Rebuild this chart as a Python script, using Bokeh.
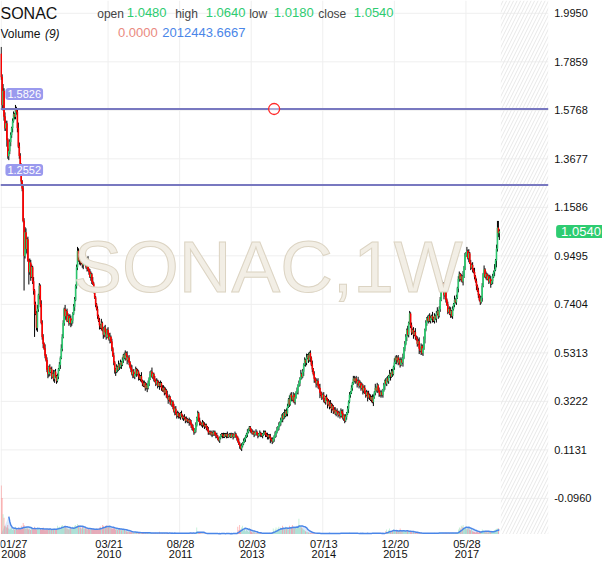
import pandas as pd
from bokeh.plotting import figure
from bokeh.models import Range1d, Label, ColumnDataSource
from bokeh.embed import file_html
from bokeh.resources import INLINE

FONT = "Liberation Sans"

# ---------------- data ----------------
symbol = "SONAC"
watermark = "SONAC,1W"
date_tick_weeks = [12, 112, 187, 262, 337, 412, 487]
date_grid_weeks = [0, 112, 187, 262, 337, 412, 487]
date_tick_labels = [("01/27", "2008"), ("03/21", "2010"), ("08/28", "2011"), ("02/03", "2013"),
                    ("07/13", "2014"), ("12/20", "2015"), ("05/28", "2017")]
price_ticks = [1.9950, 1.7859, 1.5768, 1.3677, 1.1586, 0.9495, 0.7404,
               0.5313, 0.3222, 0.1131, -0.0960]
level_lines = [1.5826, 1.2552]
marker_week = [286]
marker_price = [1.5826]
last_ohlc = {"open": "1.0480", "high": "1.0640", "low": "1.0180", "close": "1.0540"}
last_price = 1.0540
vol_last_text = "0.0000"
vol_ma_text = "2012443.6667"

first_open = 1.82
closes = [
    1.72, 1.60, 1.66, 1.55, 1.50, 1.52, 1.45, 1.38, 1.40, 1.44,
    1.47, 1.50, 1.53, 1.56, 1.55, 1.58, 1.57, 1.50, 1.42, 1.38,
    1.33, 1.27, 1.24, 1.10, 0.95, 1.05, 0.98, 1.02, 0.93, 0.88,
    0.92, 0.86, 0.90, 0.84, 0.80, 0.74, 0.70, 0.64, 0.72, 0.78,
    0.82, 0.74, 0.66, 0.60, 0.57, 0.55, 0.52, 0.50, 0.46, 0.44,
    0.47, 0.45, 0.46, 0.43, 0.44, 0.42, 0.45, 0.43, 0.41, 0.43,
    0.46, 0.48, 0.51, 0.55, 0.60, 0.66, 0.72, 0.69, 0.71, 0.67,
    0.69, 0.66, 0.68, 0.66, 0.67, 0.70, 0.73, 0.76, 0.82, 0.90,
    0.97, 0.93, 0.95, 0.92, 0.94, 0.91, 0.93, 0.95, 0.92, 0.90,
    0.93, 0.89, 0.88, 0.86, 0.87, 0.84, 0.83, 0.80, 0.77, 0.74,
    0.72, 0.69, 0.67, 0.65, 0.64, 0.66, 0.63, 0.61, 0.64, 0.62,
    0.60, 0.63, 0.61, 0.59, 0.60, 0.58, 0.55, 0.52, 0.49, 0.46,
    0.45, 0.47, 0.46, 0.48, 0.47, 0.49, 0.48, 0.50, 0.52, 0.51,
    0.53, 0.52, 0.50, 0.51, 0.49, 0.47, 0.46, 0.44, 0.45, 0.43,
    0.44, 0.46, 0.44, 0.45, 0.43, 0.42, 0.43, 0.41, 0.40, 0.39,
    0.40, 0.38, 0.39, 0.38, 0.40, 0.42, 0.44, 0.45, 0.43, 0.44,
    0.42, 0.41, 0.40, 0.41, 0.39, 0.40, 0.39, 0.40, 0.38, 0.37,
    0.38, 0.36, 0.37, 0.35, 0.34, 0.33, 0.34, 0.32, 0.31, 0.32,
    0.30, 0.28, 0.29, 0.27, 0.26, 0.27, 0.26, 0.255, 0.27, 0.26,
    0.25, 0.255, 0.25, 0.24, 0.245, 0.24, 0.235, 0.24, 0.23, 0.22,
    0.21, 0.20, 0.19, 0.20, 0.22, 0.25, 0.27, 0.24, 0.23, 0.225,
    0.22, 0.23, 0.22, 0.215, 0.22, 0.21, 0.20, 0.19, 0.185, 0.19,
    0.18, 0.185, 0.18, 0.19, 0.18, 0.175, 0.17, 0.16, 0.155, 0.165,
    0.175, 0.18, 0.175, 0.17, 0.18, 0.175, 0.18, 0.17, 0.175, 0.18,
    0.17, 0.175, 0.18, 0.17, 0.175, 0.18, 0.17, 0.165, 0.15, 0.14,
    0.13, 0.12, 0.13, 0.14, 0.15, 0.16, 0.17, 0.18, 0.19, 0.20,
    0.21, 0.20, 0.19, 0.185, 0.19, 0.18, 0.185, 0.19, 0.18, 0.175,
    0.18, 0.185, 0.18, 0.175, 0.18, 0.185, 0.19, 0.18, 0.175, 0.17,
    0.175, 0.17, 0.16, 0.155, 0.15, 0.16, 0.17, 0.18, 0.19, 0.20,
    0.21, 0.22, 0.23, 0.24, 0.26, 0.25, 0.27, 0.26, 0.28, 0.27,
    0.30, 0.33, 0.31, 0.35, 0.34, 0.33, 0.35, 0.32, 0.34, 0.36,
    0.37, 0.39, 0.40, 0.42, 0.44, 0.43, 0.45, 0.48, 0.50, 0.49,
    0.51, 0.52, 0.50, 0.53, 0.51, 0.48, 0.46, 0.44, 0.42, 0.41,
    0.40, 0.41, 0.39, 0.38, 0.36, 0.35, 0.34, 0.35, 0.33, 0.32,
    0.34, 0.33, 0.31, 0.32, 0.30, 0.31, 0.29, 0.30, 0.28, 0.285,
    0.27, 0.28, 0.275, 0.265, 0.27, 0.26, 0.28, 0.27, 0.25, 0.26,
    0.24, 0.255, 0.27, 0.29, 0.32, 0.35, 0.36, 0.38, 0.40, 0.42,
    0.41, 0.42, 0.41, 0.40, 0.41, 0.39, 0.40, 0.38, 0.39, 0.37,
    0.38, 0.36, 0.35, 0.36, 0.34, 0.35, 0.34, 0.33, 0.34, 0.32,
    0.34, 0.36, 0.38, 0.37, 0.39, 0.37, 0.36, 0.35, 0.36, 0.35,
    0.37, 0.39, 0.41, 0.40, 0.42, 0.41, 0.43, 0.44, 0.43, 0.45,
    0.44, 0.47, 0.49, 0.51, 0.50, 0.51, 0.49, 0.50, 0.48, 0.50,
    0.49, 0.51, 0.55, 0.57, 0.60, 0.63, 0.61, 0.66, 0.70, 0.65,
    0.62, 0.63, 0.61, 0.62, 0.60, 0.59, 0.57, 0.58, 0.55, 0.54,
    0.56, 0.53, 0.55, 0.59, 0.63, 0.66, 0.68, 0.67, 0.69, 0.67,
    0.68, 0.69, 0.68, 0.67, 0.69, 0.68, 0.70, 0.71, 0.69, 0.72,
    0.76, 0.81, 0.83, 0.80, 0.78, 0.80, 0.76, 0.74, 0.71, 0.72,
    0.70, 0.71, 0.69, 0.72, 0.74, 0.76, 0.75, 0.77, 0.81, 0.85,
    0.87, 0.85, 0.86, 0.84, 0.86, 0.90, 0.95, 0.96, 0.97, 0.94,
    0.96, 0.92, 0.90, 0.91, 0.89, 0.88, 0.86, 0.84, 0.82, 0.80,
    0.78, 0.76, 0.75, 0.77, 0.82, 0.87, 0.89, 0.86, 0.87, 0.85,
    0.86, 0.84, 0.85, 0.83, 0.84, 0.86, 0.88, 0.89, 0.93, 0.98,
    1.07, 1.048, 1.054,
]
# wick lengths above / below the body, in steps of 0.006
upper_wicks = (
    "3252322122 2122132243 2312243121 3221312231 2132213121 1212131212 "
    "1213221312 2132112212 3221232121 2312213121 1212131212 2121312121 "
    "1213121212 2131212312 1212121312 2121212131 1212121212 2121312121 "
    "1212121212 1121211212 1211212121 1212111211 1121112111 1112111211 "
    "1211121112 1121211121 1112111211 1211121112 1121211212 1212121312 "
    "2131212131 2121312121 3121213121 2121312121 1212131212 2121212131 "
    "1212121212 2121312121 1212131212 2131212121 1212121312 2131212121 "
    "2312213121 2121312231 2132121212 2131212312 2121312121 2312131212 "
    "2121412131 3121213121 2131213121 2132121413 532"
)
lower_wicks = (
    "2343225232 3231222312 3221524319 2312321232 3212312123 2312123121 "
    "2131212321 1213221312 2132123121 3121321212 1213121321 2121312123 "
    "3121213121 2131212131 2121312121 1213121212 2121213121 1212131212 "
    "2131212121 1212121312 2121212121 1212121211 1211121112 1121112111 "
    "1112111211 2121112121 1211121112 1121211212 2131212121 1212131212 "
    "2121312121 1312121313 2121312131 3121412121 2131213121 1212121312 "
    "2121312121 1213121213 2121312121 3121213121 2131212131 2121312121 "
    "1312131212 2131212141 3121312121 2131213121 2121312121 1312121213 "
    "2121312121 3121212131 2121312121 1213121315 235"
)
high_overrides = {0: 1.85, 15: 1.60, 521: 1.10, 522: 1.064}
low_overrides = {24: 0.80, 35: 0.60, 522: 1.018}

# weekly volume in units of 100,000 shares
volumes = [
    270, 200, 110, 90, 45, 40, 35, 50, 30, 25,
    28, 35, 22, 30, 25, 40, 28, 22, 35, 30,
    25, 45, 30, 60, 50, 35, 28, 40, 30, 25,
    30, 22, 35, 28, 25, 40, 30, 22, 35, 28,
    25, 30, 22, 28, 35, 25, 20, 30, 24, 28,
    22, 30, 25, 20, 28, 24, 30, 22, 26, 45,
    35, 40, 30, 45, 50, 42, 38, 45, 35, 30,
    28, 25, 30, 35, 28, 40, 35, 45, 50, 42,
    55, 48, 40, 35, 30, 38, 32, 28, 35, 30,
    25, 30, 28, 22, 26, 30, 24, 28, 22, 26,
    30, 25, 28, 35, 40, 30, 50, 45, 38, 42,
    48, 40, 35, 38, 42, 32, 30, 28, 35, 30,
    25, 28, 22, 26, 30, 24, 20, 25, 28, 22,
    18, 15, 12, 14, 10, 12, 9, 11, 8, 10,
    7, 9, 6, 8, 5, 7, 6, 5, 8, 6,
    5, 6, 4, 7, 5, 6, 4, 5, 6, 4,
    5, 4, 6, 3, 5, 4, 12, 4, 3, 5,
    4, 5, 3, 4, 6, 3, 5, 4, 3, 5,
    4, 3, 5, 4, 3, 4, 5, 3, 4, 3,
    5, 4, 3, 4, 5, 3, 4, 6, 5, 4,
    3, 5, 4, 3, 6, 35, 12, 8, 5, 3,
    2, 3, 2, 1, 2, 3, 1, 2, 1, 2,
    1, 2, 1, 1, 2, 1, 2, 1, 1, 2,
    1, 2, 1, 2, 1, 1, 2, 1, 2, 1,
    1, 2, 1, 3, 2, 1, 2, 3, 40, 20,
    50, 25, 35, 45, 20, 30, 15, 25, 18, 12,
    30, 20, 10, 8, 15, 12, 6, 4, 5, 3,
    4, 3, 5, 2, 4, 3, 2, 4, 3, 5,
    4, 6, 3, 5, 8, 30, 15, 25, 35, 20,
    30, 40, 25, 35, 20, 45, 30, 25, 40, 30,
    35, 25, 45, 30, 40, 50, 35, 30, 40, 30,
    45, 35, 85, 50, 40, 35, 30, 25, 20, 15,
    12, 10, 8, 6, 5, 4, 3, 4, 3, 2,
    3, 2, 4, 2, 3, 2, 3, 4, 2, 3,
    2, 3, 2, 4, 3, 2, 3, 2, 3, 2,
    3, 2, 4, 3, 2, 3, 5, 2, 3, 2,
    3, 4, 2, 3, 5, 8, 4, 3, 2, 3,
    2, 3, 4, 2, 3, 2, 4, 3, 2, 3,
    2, 3, 2, 4, 3, 2, 3, 2, 4, 3,
    3, 2, 4, 3, 2, 3, 4, 2, 3, 2,
    3, 2, 4, 15, 25, 10, 20, 30, 15, 12,
    18, 25, 14, 10, 20, 15, 12, 18, 30, 15,
    12, 20, 15, 10, 18, 14, 20, 12, 10, 15,
    12, 8, 10, 6, 5, 4, 6, 3, 4, 5,
    3, 4, 2, 5, 3, 4, 2, 3, 5, 4,
    3, 4, 5, 3, 6, 4, 3, 5, 4, 6,
    5, 4, 6, 3, 5, 4, 6, 5, 4, 6,
    5, 4, 3, 6, 5, 4, 3, 5, 8, 25,
    35, 30, 45, 40, 50, 35, 30, 40, 25, 30,
    35, 25, 20, 30, 15, 12, 10, 8, 12, 10,
    8, 10, 12, 15, 25, 20, 12, 15, 10, 12,
    8, 10, 12, 15, 12, 15, 18, 22, 25, 28,
    30, 31, 0,
]

# ---------------- derived ----------------
GREEN = "#2ecc71"
RED = "#ff0000"
WICK_STEP = 0.006
n = len(closes)
weeks = list(range(n))
opens = [first_open] + closes[:-1]
uw = [int(c) for c in upper_wicks.replace(" ", "")]
lw = [int(c) for c in lower_wicks.replace(" ", "")]
uw = (uw + [1] * n)[:n]
lw = (lw + [1] * n)[:n]
highs = [max(o, c) + u * WICK_STEP for o, c, u in zip(opens, closes, uw)]
lows = [min(o, c) - d * WICK_STEP for o, c, d in zip(opens, closes, lw)]
for k, v in high_overrides.items():
    highs[k] = v
for k, v in low_overrides.items():
    lows[k] = v
colors = [GREEN if c >= o else RED for o, c in zip(opens, closes)]
vols = (volumes + [0] * n)[:n]
vol_ma = pd.Series(vols, dtype=float).rolling(9).mean()

src = ColumnDataSource(dict(
    x=weeks, open=opens, close=closes, high=highs, low=lows,
    top=[max(o, c) for o, c in zip(opens, closes)],
    bottom=[min(o, c) for o, c in zip(opens, closes)],
    color=colors, vol=vols, vol_ma=vol_ma.tolist(),
))

# ---------------- layout (reference is 610 x 568, price pane 555 x 541) ----------------
W, H = 602, 560
SX, SY = W / 610.0, H / 568.0
X0, X1 = -0.7, 573.2            # weeks at left / right edge of price pane
WK_PER_PX = (X1 - X0) / 555.0
Y_TOP, Y_BOT = 2.0502, -0.249   # prices at top / bottom edge of price pane
PR_PER_PX = (Y_TOP - Y_BOT) / 541.0
VOL_PER_PX = 5.5

p = figure(width=W, height=H, title=None,
           x_range=Range1d(X0, X0 + 610 * WK_PER_PX),
           y_range=Range1d(Y_TOP - 568 * PR_PER_PX, Y_TOP),
           x_axis_location=None, y_axis_location=None,
           output_backend="svg", toolbar_location=None, min_border=0,
           background_fill_color="white", border_fill_color="white", outline_line_color=None)
p.grid.visible = False
p.extra_y_ranges = {"vol": Range1d(-27 * VOL_PER_PX, 541 * VOL_PER_PX)}

GRID = "#efefef"
p.segment(x0=[X0] * len(price_ticks), x1=[X1] * len(price_ticks), y0=price_ticks, y1=price_ticks,
          line_color=GRID, line_width=1)
p.segment(x0=date_grid_weeks, x1=date_grid_weeks, y0=[Y_BOT] * len(date_grid_weeks),
          y1=[Y_TOP] * len(date_grid_weeks), line_color=GRID, line_width=1)

# future (hatched) area
p.quad(left=[n + 0.5], right=[X1], bottom=[Y_BOT], top=[Y_TOP], fill_alpha=0, line_color=None,
       hatch_pattern="/", hatch_color="#e8e8e8", hatch_scale=7, hatch_weight=1)

# volume
p.varea(x="x", y1=0, y2="vol_ma", source=src, fill_color="#4a86e8", fill_alpha=0.18, y_range_name="vol")
p.vbar(x="x", width=0.6, top="vol", bottom=0, source=src, fill_color="color", line_color=None,
       fill_alpha=0.45, y_range_name="vol")
p.line(x="x", y="vol_ma", source=src, line_color="#4a86e8", line_width=1.5, y_range_name="vol")

# candles
p.segment(x0="x", y0="low", x1="x", y1="high", source=src, line_color="black", line_width=1)
p.vbar(x="x", width=0.6, top="top", bottom="bottom", source=src, fill_color="color",
       line_color="color", line_width=1)

# watermark
p.add_layout(Label(x=271 * SX, y=H - 270 * SY, x_units="screen", y_units="screen", text=watermark,
                   text_font=FONT, text_font_size="73px", text_color="#f2eee5",
                   text_outline_color="#dcd4c3", text_align="center", text_baseline="middle"))

# level lines
for lv in level_lines:
    p.segment(x0=[X0], x1=[X1], y0=[lv], y1=[lv], line_color="#7878c0", line_width=2)
    p.add_layout(Label(x=5 * SX, y=lv, x_units="screen", y_units="data", y_offset=15, text=f"{lv:.4f}",
                       text_font=FONT, text_font_size="11px", text_color="white",
                       text_baseline="middle", background_fill_color="#9a9aee",
                       border_radius=3, padding=(2, 2)))
p.scatter(x=marker_week, y=marker_price, marker="circle", size=11, fill_color="white",
          fill_alpha=0.4, line_color="#ff2a2a", line_width=1.3)


def txt(x, y, s, color, size="13px", style="normal", align="left"):
    p.add_layout(Label(x=x * SX, y=H - y * SY, x_units="screen", y_units="screen", text=s,
                       text_font=FONT, text_font_size=size, text_color=color,
                       text_font_style=style, text_baseline="alphabetic", text_align=align))


# header
txt(0, 13.5, symbol, "#111111", "16px")
txt(98, 14, "open", "#444444", "12px")
txt(128, 12.5, last_ohlc["open"], GREEN)
txt(177, 14, "high", "#444444", "12px")
txt(208, 12.5, last_ohlc["high"], GREEN)
txt(252, 14, "low", "#444444", "12px")
txt(277, 12.5, last_ohlc["low"], GREEN)
txt(322, 14, "close", "#444444", "12px")
txt(358, 12.5, last_ohlc["close"], GREEN)
txt(0, 33.5, "Volume", "#111111", "12px")
txt(45, 33.5, "(9)", "#111111", "12px", "italic")
txt(119, 32.5, vol_last_text, "#ea8a80")
txt(164, 32.5, vol_ma_text, "#4a86e8")

# date axis labels
for wk, (l1, l2) in zip(date_tick_weeks, date_tick_labels):
    xr = (wk - X0) / WK_PER_PX + 1
    txt(xr, 551.5, l1, "#111111", "11px", align="center")
    txt(xr, 561, l2, "#111111", "11px", align="center")

# price axis labels
for t in price_ticks:
    p.add_layout(Label(x=561 * SX, y=t, x_units="screen", y_units="data", text=f"{t:.4f}",
                       text_font=FONT, text_font_size="11px", text_color="#111111",
                       text_baseline="middle"))

# last price tag on the axis
p.add_layout(Label(x=563 * SX, y=last_price, x_units="screen", y_units="data", text=f"{last_price:.4f}",
                   text_font=FONT, text_font_size="13px", text_color="white", text_baseline="middle",
                   background_fill_color="#2ecc71", border_radius=3, padding=(5, 2)))

open("out.html", "w").write(file_html(p, INLINE))
